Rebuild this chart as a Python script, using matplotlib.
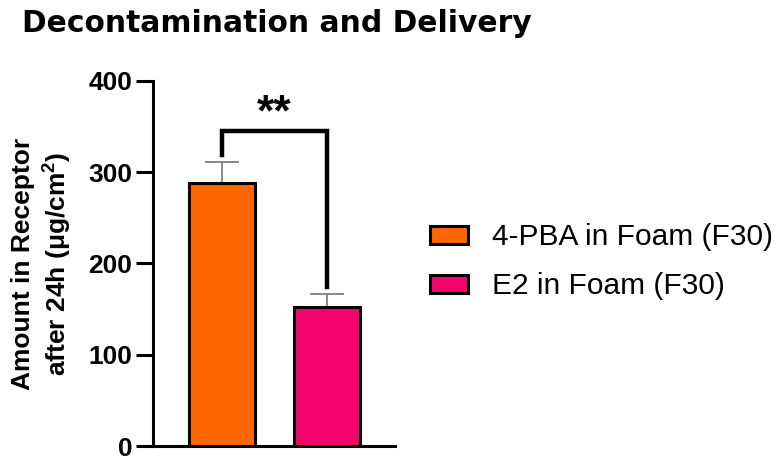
import matplotlib.pyplot as plt
import numpy as np

plt.rcParams['font.family'] = ['Liberation Sans', 'DejaVu Sans']
plt.rcParams['mathtext.default'] = 'regular'

groups = ['4-PBA in Foam (F30)', 'E2 in Foam (F30)']
means = [288, 152]
errors = [23, 15]
colors = ['#FF6600', '#F2046A']
bracket_y = 345
bracket_legs = [319, 174]
sig_label = '**'


def main():
    fig = plt.figure(figsize=(7.81, 4.61), dpi=100)
    ax = fig.add_axes([0.196, 0.0325, 0.31, 0.792])

    x = np.arange(len(means))
    ax.errorbar(x, means, yerr=[np.zeros(len(errors)), errors], fmt='none',
                ecolor='#808080', elinewidth=1.3, capsize=12, capthick=1.3, zorder=1)
    bars = ax.bar(x, means, width=0.63, color=colors, edgecolor='black',
                  linewidth=2.2, zorder=2)

    # significance bracket
    ax.plot([x[0], x[0], x[1], x[1]],
            [bracket_legs[0], bracket_y, bracket_y, bracket_legs[1]],
            color='black', lw=3.2, solid_joinstyle='miter', zorder=3)
    ax.text(np.mean(x), bracket_y - 4, sig_label, ha='center', va='bottom',
            fontsize=32, fontweight='bold')

    ax.set_ylim(0, 400)
    ax.set_xlim(-0.66, 1.655)
    ax.set_yticks([0, 100, 200, 300, 400])
    ax.set_xticks([])
    for side in ['top', 'right']:
        ax.spines[side].set_visible(False)
    for side in ['left', 'bottom']:
        ax.spines[side].set_linewidth(2.2)
    ax.tick_params(axis='y', length=12, width=2.2, pad=3, labelsize=19)
    for lab in ax.get_yticklabels():
        lab.set_fontweight('bold')

    ax.set_ylabel('Amount in Receptor\nafter 24h $(\\mu g/cm^2)$',
                  fontsize=19, fontweight='bold', labelpad=10, linespacing=1.3)

    fig.text(0.028, 0.93, 'Decontamination and Delivery', fontsize=21.4,
             fontweight='bold', family='DejaVu Sans', va='baseline', ha='left')

    fig.legend(bars, groups, loc='center left', bbox_to_anchor=(0.551, 0.432),
               frameon=False, fontsize=21.5, handlelength=1.27, handleheight=0.54,
               handletextpad=0.8, labelspacing=0.7, borderpad=0, borderaxespad=0)

    fig.savefig('out.png', dpi=100)


if __name__ == '__main__':
    main()
